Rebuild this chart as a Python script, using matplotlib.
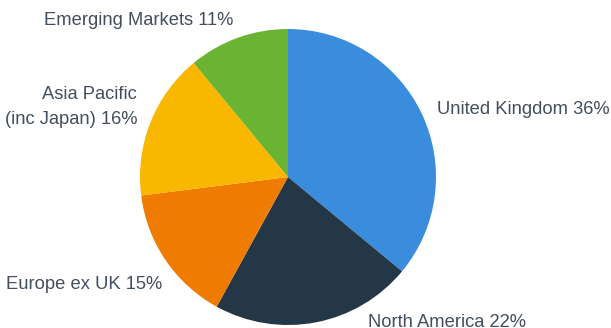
import matplotlib.pyplot as plt

regions = ['United Kingdom', 'North America', 'Europe ex UK',
           'Asia Pacific\n(inc Japan)', 'Emerging Markets']
weights = [36, 22, 15, 16, 11]
colors = ['#3a8ddd', '#243746', '#ef7c00', '#f9b700', '#6bb333']

# label anchor (in pie radii) and alignment for each slice
label_pos = [(1.007, 0.453, 'left'), (0.54, -0.985, 'left'),
             (-0.851, -0.723, 'right'), (-1.02, 0.473, 'right'),
             (-0.372, 1.06, 'right')]

fig = plt.figure(figsize=(6.11, 3.28), dpi=100)
ax = fig.add_axes([0, 0, 1, 1])

wedges, _ = ax.pie(weights, colors=colors, startangle=90, counterclock=False,
                   radius=1.0, wedgeprops=dict(linewidth=0))

for name, w, (x, y, ha) in zip(regions, weights, label_pos):
    ax.text(x, y, f'{name} {w}%', ha=ha, va='center', fontsize=13.2,
            color='#434f5c', family='Liberation Sans', linespacing=1.55,
            multialignment='right' if ha == 'right' else 'left')

r_px = 148.0
cx, cy = 288.0, 151.0
ax.set_aspect('auto')
ax.set_xlim(-cx / r_px, (611 - cx) / r_px)
ax.set_ylim(-cy / r_px, (328 - cy) / r_px)
ax.axis('off')

plt.savefig('out.png', dpi=100)
